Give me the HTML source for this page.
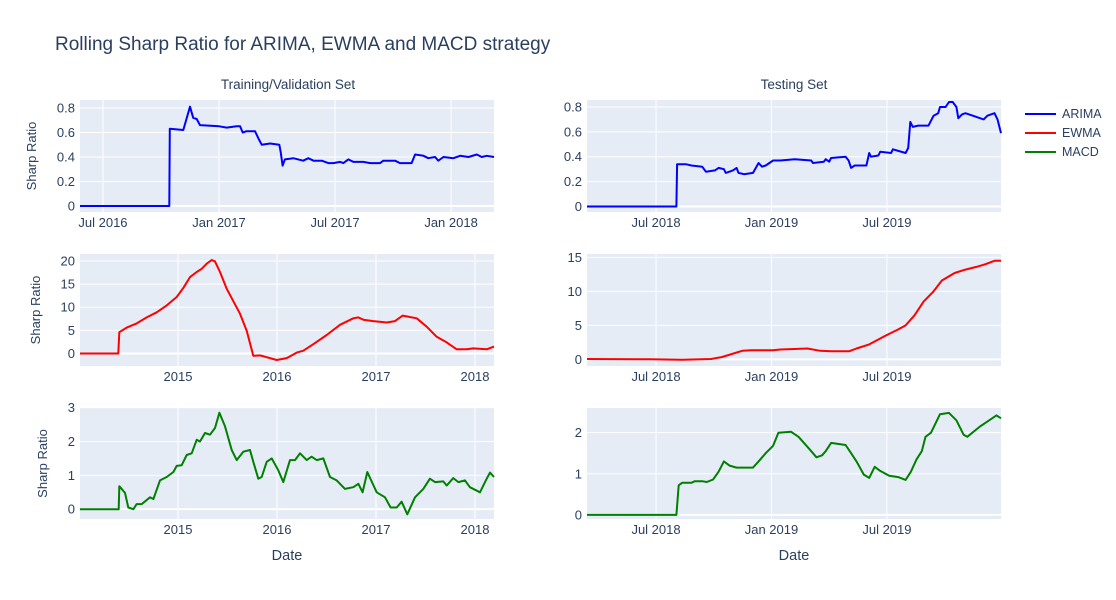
<!DOCTYPE html>
<html><head><meta charset="utf-8"><style>
body{margin:0;background:#fff;}
svg{display:block;font-family:"Liberation Sans",Arial,sans-serif;}
</style></head><body>
<svg id="c" width="1116" height="600">
<text x="55" y="50" font-size="19" fill="#2a3f5f">Rolling Sharp Ratio for ARIMA, EWMA and MACD strategy</text>
<text x="288" y="89" font-size="13.5" fill="#2a3f5f" text-anchor="middle">Training/Validation Set</text>
<text x="794" y="89" font-size="13.5" fill="#2a3f5f" text-anchor="middle">Testing Set</text>
<g>
<line x1="1025" y1="114" x2="1056" y2="114" stroke="#0000ff" stroke-width="2"/>
<text x="1062" y="118" font-size="12.5" fill="#2a3f5f">ARIMA</text>
<line x1="1025" y1="133" x2="1056" y2="133" stroke="#ff0000" stroke-width="2"/>
<text x="1062" y="137" font-size="12.5" fill="#2a3f5f">EWMA</text>
<line x1="1025" y1="152" x2="1056" y2="152" stroke="#008000" stroke-width="2"/>
<text x="1062" y="156" font-size="12.5" fill="#2a3f5f">MACD</text>
</g>
<text x="287" y="560" font-size="14.5" fill="#2a3f5f" text-anchor="middle">Date</text>
<text x="794" y="560" font-size="14.5" fill="#2a3f5f" text-anchor="middle">Date</text>
</svg>
<script>
const arimaTrainX=[2016.401,2016.786,2016.788,2016.846,2016.875,2016.889,2016.904,2016.918,2017.001,2017.033,2017.076,2017.091,2017.102,2017.119,2017.155,2017.170,2017.184,2017.220,2017.260,2017.266,2017.274,2017.284,2017.320,2017.363,2017.385,2017.407,2017.443,2017.471,2017.493,2017.522,2017.536,2017.557,2017.579,2017.622,2017.651,2017.694,2017.708,2017.759,2017.780,2017.830,2017.845,2017.881,2017.902,2017.931,2017.945,2017.967,2018.010,2018.039,2018.075,2018.111,2018.132,2018.154,2018.185];
const arimaTrainY=[0,0,0.63,0.62,0.81,0.72,0.71,0.66,0.65,0.64,0.65,0.65,0.6,0.61,0.61,0.55,0.5,0.51,0.5,0.44,0.33,0.38,0.39,0.37,0.39,0.37,0.37,0.35,0.35,0.36,0.35,0.38,0.36,0.36,0.35,0.35,0.37,0.37,0.35,0.35,0.42,0.41,0.39,0.4,0.37,0.4,0.39,0.41,0.40,0.42,0.40,0.41,0.40];
const ewmaTrainX=[2014.010,2014.397,2014.407,2014.482,2014.583,2014.684,2014.785,2014.886,2014.987,2015.054,2015.121,2015.189,2015.239,2015.290,2015.340,2015.374,2015.424,2015.492,2015.559,2015.626,2015.694,2015.761,2015.828,2015.896,2015.997,2016.098,2016.199,2016.266,2016.367,2016.502,2016.636,2016.771,2016.821,2016.872,2016.973,2017.108,2017.192,2017.270,2017.411,2017.512,2017.613,2017.714,2017.815,2017.916,2017.983,2018.118,2018.192];
const ewmaTrainY=[0,0,4.6,5.6,6.5,7.8,8.9,10.4,12.2,14.2,16.5,17.6,18.3,19.4,20.2,19.9,17.6,14.0,11.3,8.6,4.9,-0.5,-0.4,-0.8,-1.4,-1.0,0.2,0.6,2.0,4.0,6.2,7.6,7.8,7.3,7.0,6.7,7.0,8.2,7.6,5.8,3.6,2.4,0.9,0.9,1.1,0.9,1.5];
const macdTrainX=[2014.010,2014.401,2014.407,2014.465,2014.498,2014.549,2014.582,2014.633,2014.717,2014.751,2014.818,2014.886,2014.953,2014.987,2015.037,2015.088,2015.138,2015.189,2015.222,2015.273,2015.323,2015.374,2015.418,2015.475,2015.542,2015.593,2015.660,2015.727,2015.761,2015.811,2015.845,2015.896,2015.946,2016.013,2016.064,2016.131,2016.182,2016.232,2016.300,2016.350,2016.401,2016.468,2016.535,2016.603,2016.687,2016.771,2016.822,2016.865,2016.912,2017.007,2017.091,2017.148,2017.209,2017.259,2017.316,2017.394,2017.478,2017.545,2017.596,2017.680,2017.714,2017.781,2017.832,2017.899,2017.949,2018.051,2018.118,2018.152,2018.192];
const macdTrainY=[0,0,0.68,0.48,0.05,0.0,0.15,0.15,0.35,0.3,0.85,0.95,1.1,1.28,1.3,1.6,1.65,2.05,2.0,2.25,2.2,2.4,2.85,2.45,1.75,1.45,1.7,1.75,1.4,0.9,0.95,1.4,1.5,1.15,0.8,1.45,1.45,1.65,1.45,1.55,1.45,1.5,0.95,0.85,0.6,0.65,0.75,0.5,1.1,0.5,0.35,0.05,0.05,0.22,-0.15,0.35,0.6,0.9,0.8,0.82,0.7,0.92,0.8,0.85,0.65,0.5,0.9,1.08,0.95];
const arimaTestX=[2018.201,2018.588,2018.591,2018.629,2018.653,2018.700,2018.716,2018.755,2018.771,2018.794,2018.802,2018.833,2018.849,2018.857,2018.881,2018.920,2018.944,2018.959,2018.975,2019.007,2019.038,2019.101,2019.172,2019.180,2019.227,2019.235,2019.250,2019.258,2019.321,2019.334,2019.345,2019.360,2019.411,2019.423,2019.431,2019.463,2019.471,2019.518,2019.526,2019.581,2019.592,2019.601,2019.612,2019.636,2019.680,2019.702,2019.722,2019.730,2019.754,2019.769,2019.785,2019.801,2019.809,2019.825,2019.840,2019.872,2019.903,2019.919,2019.935,2019.966,2019.979,2019.994];
const arimaTestY=[0,0,0.34,0.34,0.33,0.32,0.28,0.29,0.31,0.30,0.27,0.29,0.31,0.27,0.26,0.27,0.35,0.32,0.33,0.37,0.37,0.38,0.37,0.35,0.36,0.38,0.36,0.39,0.40,0.37,0.31,0.33,0.33,0.43,0.40,0.41,0.44,0.43,0.46,0.43,0.47,0.68,0.64,0.65,0.65,0.73,0.75,0.80,0.80,0.84,0.84,0.80,0.71,0.74,0.75,0.73,0.71,0.70,0.73,0.75,0.70,0.59];
const ewmaTestX=[2018.201,2018.472,2018.613,2018.739,2018.786,2018.873,2018.912,2019.007,2019.038,2019.156,2019.211,2019.258,2019.337,2019.368,2019.423,2019.494,2019.549,2019.581,2019.620,2019.659,2019.699,2019.738,2019.793,2019.840,2019.887,2019.927,2019.966,2019.994];
const ewmaTestY=[0.05,0,-0.05,0.05,0.35,1.25,1.35,1.35,1.45,1.6,1.25,1.2,1.2,1.6,2.2,3.5,4.4,5.0,6.5,8.5,9.9,11.6,12.7,13.2,13.6,14.0,14.5,14.5];
const macdTestX=[2018.201,2018.588,2018.598,2018.613,2018.653,2018.668,2018.700,2018.720,2018.747,2018.771,2018.794,2018.818,2018.849,2018.920,2018.944,2018.975,2019.007,2019.030,2019.085,2019.117,2019.164,2019.195,2019.219,2019.235,2019.258,2019.321,2019.345,2019.368,2019.400,2019.423,2019.447,2019.471,2019.510,2019.549,2019.581,2019.604,2019.628,2019.651,2019.667,2019.691,2019.730,2019.769,2019.801,2019.832,2019.848,2019.903,2019.943,2019.974,2019.994];
const macdTestY=[0,0,0.72,0.78,0.78,0.82,0.82,0.80,0.86,1.05,1.3,1.2,1.15,1.15,1.3,1.5,1.68,2.0,2.02,1.9,1.6,1.4,1.45,1.55,1.75,1.7,1.5,1.3,0.98,0.9,1.17,1.07,0.95,0.92,0.85,1.05,1.35,1.55,1.9,2.0,2.45,2.48,2.3,1.95,1.9,2.15,2.3,2.42,2.35];
const leftTopTicks=[2016.5,2017,2017.5,2018], leftTopLabels=["Jul 2016","Jan 2017","Jul 2017","Jan 2018"];
const leftTicks=[2015,2016,2017,2018], leftLabels=["2015","2016","2017","2018"];
const rightTicks=[2018.5,2019,2019.5], rightLabels=["Jul 2018","Jan 2019","Jul 2019"];
const yTicksRatio=[0,0.2,0.4,0.6,0.8], yLabelsRatio=["0","0.2","0.4","0.6","0.8"];

const svg=document.getElementById('c');
const NS='http://www.w3.org/2000/svg';
function mk(tag,attrs){const e=document.createElementNS(NS,tag);for(const k in attrs)e.setAttribute(k,attrs[k]);svg.appendChild(e);return e;}
function panel(name,box,xr,yr,xt,xl,yt,yl,xs,ys,color,yTitle,ytx){
  const sx=v=>box[0]+(v-xr[0])/(xr[1]-xr[0])*(box[2]-box[0]);
  const sy=v=>box[3]-(v-yr[0])/(yr[1]-yr[0])*(box[3]-box[1]);
  const bg=mk('rect',{x:box[0],y:box[1],width:box[2]-box[0],height:box[3]-box[1],fill:'#e5ecf6'});
  
  
  xt.forEach((t,i)=>{const x=sx(t);
    const g=mk('line',{x1:x,x2:x,y1:box[1],y2:box[3],stroke:'#fff','stroke-width':1});
    
    
    const tx=mk('text',{x:x,y:box[3]+15,'font-size':13,fill:'#2a3f5f','text-anchor':'middle'});tx.textContent=xl[i];
    
    
  });
  yt.forEach((t,i)=>{const y=sy(t);
    const g=mk('line',{x1:box[0],x2:box[2],y1:y,y2:y,stroke:'#fff','stroke-width':t===0?2:1});
    
    
    const tx=mk('text',{x:box[0]-5,y:y+4.5,'font-size':13,fill:'#2a3f5f','text-anchor':'end'});tx.textContent=yl[i];
    
    
  });
  const d=xs.map((x,i)=>(i?'L':'M')+sx(x).toFixed(1)+','+sy(ys[i]).toFixed(1)).join('');
  const p=mk('path',{d:d,fill:'none',stroke:color,'stroke-width':2,'stroke-linejoin':'round'});
  
  
  if(yTitle){const cy=(box[1]+box[3])/2;
    const tt=mk('text',{x:ytx,y:cy,'font-size':13,fill:'#2a3f5f','text-anchor':'middle',transform:`rotate(-90 ${ytx} ${cy})`});tt.textContent=yTitle;
    
    
  }
}
panel('arima-train',[80,100,494,212],[2016.401,2018.185],[-0.049,0.865],leftTopTicks,leftTopLabels,yTicksRatio,yLabelsRatio,arimaTrainX,arimaTrainY,'#0000ff','Sharp Ratio',36);
panel('ewma-train',[80,254,494,366],[2014.010,2018.192],[-2.7,21.5],leftTicks,leftLabels,[0,5,10,15,20],["0","5","10","15","20"],ewmaTrainX,ewmaTrainY,'#ff0000','Sharp Ratio',40);
panel('macd-train',[80,408,494,519],[2014.010,2018.192],[-0.29,2.99],leftTicks,leftLabels,[0,1,2,3],["0","1","2","3"],macdTrainX,macdTrainY,'#008000','Sharp Ratio',47);
panel('arima-test',[587,100,1001,212],[2018.201,2019.994],[-0.044,0.856],rightTicks,rightLabels,yTicksRatio,yLabelsRatio,arimaTestX,arimaTestY,'#0000ff',null,0);
panel('ewma-test',[587,254,1001,366],[2018.201,2019.994],[-0.98,15.5],rightTicks,rightLabels,[0,5,10,15],["0","5","10","15"],ewmaTestX,ewmaTestY,'#ff0000',null,0);
panel('macd-test',[587,408,1001,519],[2018.201,2019.994],[-0.1,2.6],rightTicks,rightLabels,[0,1,2],["0","1","2"],macdTestX,macdTestY,'#008000',null,0);
</script>
</body></html>
